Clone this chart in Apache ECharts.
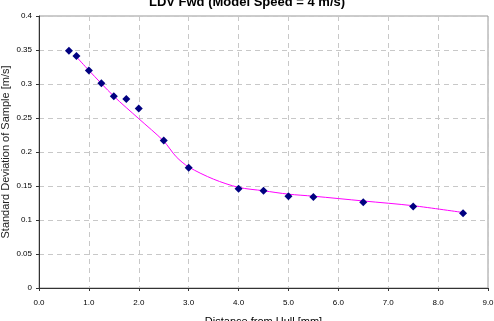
<!DOCTYPE html>
<html>
<head>
<meta charset="utf-8">
<script src="https://cdn.jsdelivr.net/npm/echarts@6/dist/echarts.min.js"></script>
<style>
  html, body { margin: 0; padding: 0; background: #fff; }
  #chart { width: 494px; height: 321px; }
</style>
</head>
<body>
<div id="chart"></div>
<script>
// measured samples
var distX = [0.6, 0.75, 1.0, 1.25, 1.5, 1.75, 2.0, 2.5, 3.0, 4.0, 4.5, 5.0, 5.5, 6.5, 7.5, 8.5];
var stdY = [0.349, 0.341, 0.320, 0.301, 0.282, 0.278, 0.264, 0.217, 0.177, 0.146, 0.143, 0.135, 0.134, 0.126, 0.120, 0.110];

// fitted curve (magenta)
var fitX = [0.75, 1.0, 1.5, 2.0, 2.5, 2.75, 3.0, 3.5, 4.0, 4.5, 5.0, 5.5, 6.5, 7.5, 8.5];
var fitY = [0.340, 0.320, 0.282, 0.249, 0.216, 0.193, 0.178, 0.160, 0.148, 0.143, 0.138, 0.135, 0.128, 0.121, 0.111];

var chart = echarts.init(document.getElementById('chart'));

var option = {
    animation: false,
    title: {
        text: 'LDV Fwd (Model Speed = 4 m/s)',
        left: 'center',
        top: -9,
        textStyle: {
            fontFamily: 'Liberation Sans',
            fontSize: 13,
            fontWeight: 'bold',
            color: '#000'
        }
    },
    grid: {
        left: 39,
        right: 6,
        top: 16,
        bottom: 33,
        containLabel: false,
        outerBoundsMode: 'none',
        show: true,
        borderColor: '#999',
        borderWidth: 1
    },
    xAxis: {
        type: 'value',
        min: 0,
        max: 9,
        interval: 1,
        name: 'Distance from Hull [mm]',
        nameLocation: 'middle',
        nameGap: 28,
        nameTextStyle: { fontFamily: 'Liberation Sans', fontSize: 11, color: '#000' },
        axisLine: { show: true, lineStyle: { color: '#333', width: 1 } },
        axisTick: { show: true, length: 3, lineStyle: { color: '#333' } },
        axisLabel: {
            fontFamily: 'Liberation Sans',
            fontSize: 8,
            color: '#000',
            margin: 11,
            formatter: function (v) { return v.toFixed(1); }
        },
        splitLine: { show: true, lineStyle: { color: '#c8c8c8', type: [5, 4] } }
    },
    yAxis: {
        type: 'value',
        min: 0,
        max: 0.4,
        interval: 0.05,
        name: 'Standard Deviation of Sample [m/s]',
        nameLocation: 'middle',
        nameGap: 28,
        nameMoveOverlap: false,
        nameTextStyle: { fontFamily: 'Liberation Sans', fontSize: 11, color: '#222' },
        axisLine: { show: true, lineStyle: { color: '#333', width: 1 } },
        axisTick: { show: true, length: 3, lineStyle: { color: '#333' } },
        axisLabel: {
            fontFamily: 'Liberation Sans',
            fontSize: 8,
            color: '#000',
            margin: 7
        },
        splitLine: { show: true, lineStyle: { color: '#c8c8c8', type: [5, 4] } }
    },
    series: [{
        name: 'fit',
        type: 'line',
        data: fitX.map(function (x, i) { return [x, fitY[i]]; }),
        smooth: 0.3,
        showSymbol: false,
        lineStyle: { color: '#ff00ff', width: 1 },
        z: 2
    }, {
        name: 'samples',
        type: 'scatter',
        data: distX.map(function (x, i) { return [x, stdY[i]]; }),
        symbol: 'diamond',
        symbolSize: 8,
        itemStyle: { color: '#000080', opacity: 1 },
        z: 3
    }]
};
chart.setOption(option);
</script>
</body>
</html>
